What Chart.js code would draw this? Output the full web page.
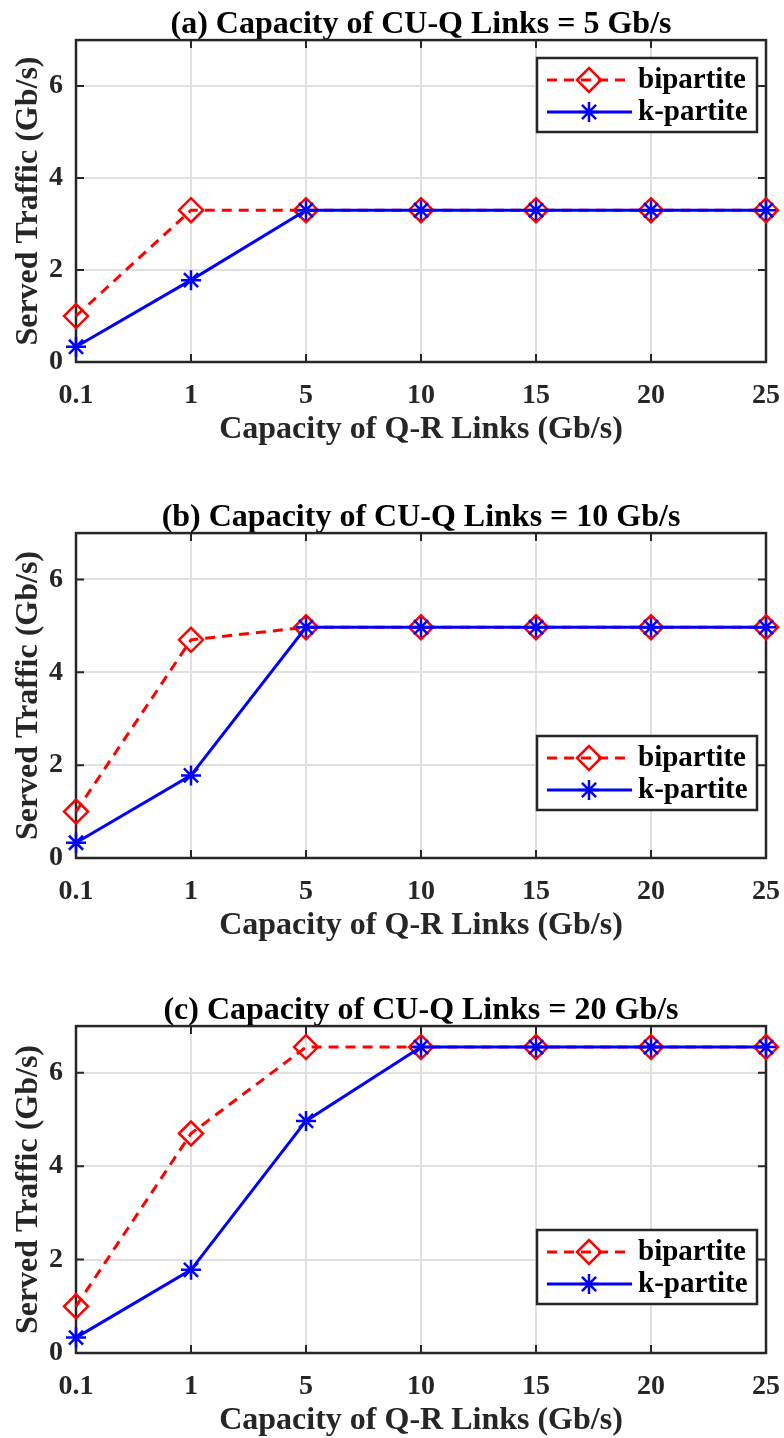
<!DOCTYPE html>
<html>
<head>
<meta charset="utf-8">
<script src="https://cdn.jsdelivr.net/npm/chart.js@4.4.1/dist/chart.umd.min.js"></script>
<style>
body { margin: 0; background: #fff; }
canvas { position: absolute; left: 0; }
</style>
</head>
<body>
<canvas id="chartA" width="784" height="493" style="top:0px"></canvas>
<canvas id="chartB" width="784" height="493" style="top:493px"></canvas>
<canvas id="chartC" width="784" height="452" style="top:986px"></canvas>
<script>
'use strict';

// values
var xLabels = ['0.1', '1', '5', '10', '15', '20', '25'];
var yTicks = [0, 2, 4, 6];
var seriesNames = ['bipartite', 'k-partite'];
var titleA = '(a) Capacity of CU-Q Links = 5 Gb/s';
var titleB = '(b) Capacity of CU-Q Links = 10 Gb/s';
var titleC = '(c) Capacity of CU-Q Links = 20 Gb/s';
var xTitle = 'Capacity of Q-R Links (Gb/s)';
var yTitle = 'Served Traffic (Gb/s)';

var bipartiteA = [1.0, 3.3, 3.3, 3.3, 3.3, 3.3, 3.3];
var kpartiteA = [0.33, 1.78, 3.3, 3.3, 3.3, 3.3, 3.3];
var bipartiteB = [1.0, 4.7, 4.97, 4.97, 4.97, 4.97, 4.97];
var kpartiteB = [0.33, 1.78, 4.97, 4.97, 4.97, 4.97, 4.97];
var bipartiteC = [1.0, 4.7, 6.55, 6.55, 6.55, 6.55, 6.55];
var kpartiteC = [0.33, 1.78, 4.97, 6.55, 6.55, 6.55, 6.55];

// styles
var RED = '#ff0000';
var BLUE = '#0000ff';
var AXIS = '#262626';
var GRID = '#e0e0e0';
var FONT = '"Liberation Serif", "Times New Roman", serif';

// box around the axes with inward ticks (matlab look)
var axesFrame = {
  id: 'axesFrame',
  beforeDatasetsDraw: function(chart){
    var c = chart.ctx;
    var a = chart.chartArea;
    var xs = chart.scales.x;
    var ys = chart.scales.y;
    c.save();
    c.strokeStyle = AXIS;
    c.lineWidth = 2;
    c.beginPath();
    for (var i = 0; i < xLabels.length; i++) {
      var px = xs.getPixelForTick(i);
      c.moveTo(px, a.bottom); c.lineTo(px, a.bottom - 8);
      c.moveTo(px, a.top); c.lineTo(px, a.top + 8);
    }
    for (var j = 0; j < yTicks.length; j++) {
      var py = ys.getPixelForValue(yTicks[j]);
      c.moveTo(a.left, py); c.lineTo(a.left + 8, py);
      c.moveTo(a.right, py); c.lineTo(a.right - 8, py);
    }
    c.stroke();
    c.lineWidth = 2.5;
    c.strokeRect(a.left, a.top, a.right - a.left, a.bottom - a.top);
    c.restore();
  }
};

// legend drawn inside the axes with a border
var boxLegend = {
  id: 'boxLegend',
  afterDraw: function(chart, args, opts){
    var c = chart.ctx;
    var a = chart.chartArea;
    var w = 220, h = 74;
    var x0 = a.right - 9 - w;
    var y0 = opts.top;
    c.save();
    c.fillStyle = '#fff';
    c.fillRect(x0, y0, w, h);
    c.lineWidth = 2.5;
    c.strokeStyle = AXIS;
    c.strokeRect(x0, y0, w, h);
    chart.data.datasets.forEach(function(ds, i){
      var y = y0 + 22 + i * 32;
      c.strokeStyle = ds.borderColor;
      c.lineWidth = ds.borderWidth;
      c.setLineDash(ds.borderDash || []);
      c.beginPath();
      c.moveTo(x0 + 10, y);
      c.lineTo(x0 + 95, y);
      c.stroke();
      c.setLineDash([]);
      c.lineWidth = ds.pointBorderWidth;
      c.fillStyle = 'rgba(0,0,0,0)';
      Chart.helpers.drawPoint(c, {
        pointStyle: ds.pointStyle,
        radius: ds.pointRadius,
        borderWidth: ds.pointBorderWidth,
        rotation: 0
      }, x0 + 52, y);
      c.fillStyle = '#000';
      c.font = 'bold 29px ' + FONT;
      c.textBaseline = 'middle';
      c.textAlign = 'left';
      c.fillText(ds.label, x0 + 101, y + 1);
    });
    c.restore();
  }
};

function makeChart(id, title, bipartite, kpartite, legendTop, bottomPad){
  var ctx = document.getElementById(id).getContext('2d');
  return new Chart(ctx, {
    type: 'line',
    data: {
      labels: xLabels,
      datasets: [
        {
          label: seriesNames[0],
          data: bipartite,
          borderColor: RED,
          borderWidth: 3,
          borderDash: [10, 7],
          pointStyle: 'rectRot',
          pointRadius: 12,
          pointBorderWidth: 2.5,
          pointBorderColor: RED,
          pointBackgroundColor: 'rgba(0,0,0,0)',
          fill: false,
          tension: 0,
          clip: false,
          order: 2
        },
        {
          label: seriesNames[1],
          data: kpartite,
          borderColor: BLUE,
          borderWidth: 3,
          pointStyle: 'star',
          pointRadius: 10,
          pointBorderWidth: 2.5,
          pointBorderColor: BLUE,
          pointBackgroundColor: BLUE,
          fill: false,
          tension: 0,
          clip: false,
          order: 1
        }
      ]
    },
    options: {
      responsive: false,
      animation: false,
      devicePixelRatio: 1,
      layout: {padding: {left: 0, right: 18, top: 0, bottom: bottomPad}},
      plugins: {
        legend: {display: false},
        tooltip: {enabled: false},
        title: {
          display: true,
          text: title,
          fullSize: false,
          color: '#000',
          font: {family: FONT, size: 32, weight: 'bold', lineHeight: 0.94},
          padding: {top: 10, bottom: 0}
        },
        boxLegend: {top: legendTop}
      },
      scales: {
        x: {
          type: 'category',
          offset: false,
          grid: {color: GRID, lineWidth: 2, drawTicks: false, offset: false},
          border: {display: false},
          ticks: {
            color: AXIS,
            autoSkip: false,
            maxRotation: 0,
            padding: 20,
            font: {family: FONT, size: 28, weight: 'bold', lineHeight: 1}
          },
          title: {
            display: true,
            text: xTitle,
            color: AXIS,
            font: {family: FONT, size: 32, weight: 'bold', lineHeight: 1},
            padding: {top: 10, bottom: 0}
          },
          afterFit: function(scale){
            scale.height = 84;
            scale.paddingLeft = 0;
            scale.paddingRight = 0;
          }
        },
        y: {
          min: 0,
          max: 7,
          afterBuildTicks: function(scale){
            scale.ticks = yTicks.map(function(v){ return {value: v}; });
          },
          grid: {color: GRID, lineWidth: 2, drawTicks: false},
          border: {display: false},
          ticks: {
            color: AXIS,
            padding: 13,
            font: {family: FONT, size: 28, weight: 'bold'}
          },
          title: {
            display: true,
            text: yTitle,
            color: AXIS,
            font: {family: FONT, size: 32, weight: 'bold'},
            padding: {top: 10, bottom: 0}
          },
          afterFit: function(scale){ scale.width = 76; }
        }
      }
    },
    plugins: [axesFrame, boxLegend]
  });
}

makeChart('chartA', titleA, bipartiteA, kpartiteA, 58, 47);
makeChart('chartB', titleB, bipartiteB, kpartiteB, 243, 44);
makeChart('chartC', titleC, bipartiteC, kpartiteC, 244, 1);
</script>
</body>
</html>
